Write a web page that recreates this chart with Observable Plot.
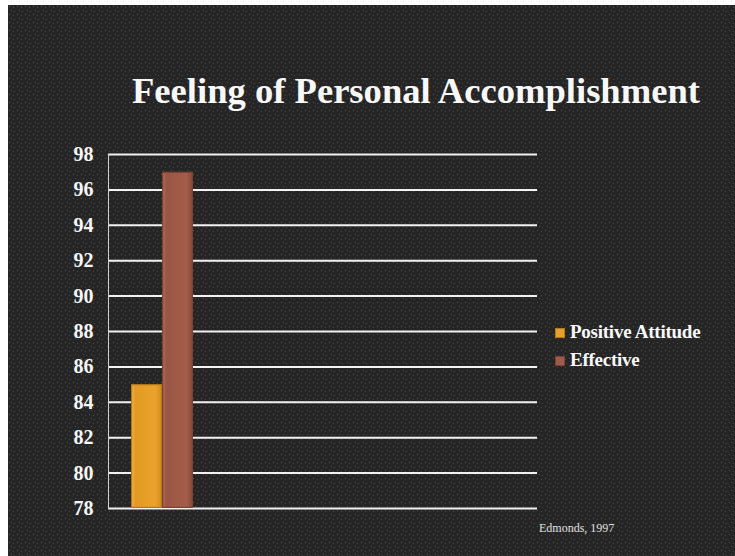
<!DOCTYPE html>
<html>
<head>
<meta charset="utf-8">
<script src="https://cdn.jsdelivr.net/npm/d3@7"></script>
<script src="https://cdn.jsdelivr.net/npm/@observablehq/plot@0.6"></script>
<style>
  html, body { margin: 0; padding: 0; background: #fff; }
  #page { position: relative; width: 735px; height: 556px; overflow: hidden; background: #fff; }
  #bg { position: absolute; left: 8px; top: 5px; width: 727px; height: 551px; background-color: #252525;
        background-image: url("data:image/svg+xml,%3Csvg xmlns='http://www.w3.org/2000/svg' width='8' height='8'%3E%3Crect x='1' y='1' width='1' height='1' fill='%23555'/%3E%3Crect x='5' y='2' width='1' height='1' fill='%234a4a4a'/%3E%3Crect x='3' y='5' width='1' height='1' fill='%23505050'/%3E%3Crect x='6' y='6' width='1' height='1' fill='%23444'/%3E%3C/svg%3E"); }
  #title { position: absolute; left: 0; width: 832px; top: 69px; text-align: center; color: #f8f8f8;
           font-family: "Liberation Serif", serif; font-weight: bold; font-size: 36.6px; white-space: nowrap; }
  #chart { position: absolute; left: 0; top: 130px; }
  .legend { position: absolute; left: 555px; font-family: "Liberation Serif", serif; font-weight: bold;
            font-size: 19px; color: #fafafa; letter-spacing: -0.25px; white-space: nowrap; }
  .legend span.sw { display: inline-block; width: 10px; height: 10px; margin-right: 5px; vertical-align: 0px; box-sizing: border-box; }
  #caption { position: absolute; left: 539px; top: 521px; font-family: "Liberation Serif", serif; font-size: 12px; color: #e0e0e0; white-space: nowrap; }
</style>
</head>
<body>
<div id="page">
  <div id="bg"></div>
  <div id="title"></div>
  <div id="chart"></div>
  <div id="legend"></div>
  <div id="caption"></div>
</div>
<script>
const titleText = "Feeling of Personal Accomplishment";
const series = ["Positive Attitude", "Effective"];
const values = [85, 97];
const yTicks = [78, 80, 82, 84, 86, 88, 90, 92, 94, 96, 98];
const captionText = "Edmonds, 1997";

const fills = ["url(#gradOrange)", "url(#gradBrown)"];
const strokes = ["#b47a1a", "#7a4232"];
const swatch = ["#e8a02a", "#a05a48"];

const data = series.map((s, i) => ({series: s, value: values[i]}));

document.getElementById("title").textContent = titleText;
document.getElementById("caption").textContent = captionText;

const plot = Plot.plot({
  width: 735,
  height: 400,
  marginLeft: 108,
  marginRight: 198,
  marginTop: 24,
  marginBottom: 22,
  style: {background: "transparent", overflow: "visible"},
  x: {domain: series, range: [131, 193], padding: 0, axis: null},
  y: {domain: [78, 98], ticks: yTicks, label: null},
  marks: [
    Plot.ruleY(yTicks, {stroke: "#f2f2f2", strokeWidth: 2}),
    Plot.axisY({ticks: yTicks, tickSize: 0, tickPadding: 15, label: null,
      fontFamily: "Liberation Serif", fontWeight: "bold", fontSize: 20, fill: "#f6f6f6"}),
    Plot.barY(data, {x: "series", y1: 78, y2: "value",
      fill: (d) => fills[series.indexOf(d.series)],
      stroke: (d) => strokes[series.indexOf(d.series)], strokeWidth: 1.2, inset: 0.6}),
    Plot.frame({anchor: "left", stroke: "#cfcfcf", strokeWidth: 1})
  ]
});

const svg = d3.select(plot);
const defs = svg.insert("defs", ":first-child");
const g1 = defs.append("linearGradient").attr("id", "gradOrange").attr("x1", "0").attr("x2", "1").attr("y1", "0").attr("y2", "0");
g1.append("stop").attr("offset", "0").attr("stop-color", "#f4b53c");
g1.append("stop").attr("offset", "0.12").attr("stop-color", "#e39a22");
g1.append("stop").attr("offset", "0.8").attr("stop-color", "#eaa22c");
g1.append("stop").attr("offset", "1").attr("stop-color", "#d48e1e");
const g2 = defs.append("linearGradient").attr("id", "gradBrown").attr("x1", "0").attr("x2", "1").attr("y1", "0").attr("y2", "0");
g2.append("stop").attr("offset", "0").attr("stop-color", "#b46c58");
g2.append("stop").attr("offset", "0.12").attr("stop-color", "#9a5644");
g2.append("stop").attr("offset", "0.8").attr("stop-color", "#a35d4a");
g2.append("stop").attr("offset", "1").attr("stop-color", "#8a4a3a");
document.getElementById("chart").appendChild(plot);

const legend = document.getElementById("legend");
const legendTops = [321, 349];
series.forEach((s, i) => {
  const row = document.createElement("div");
  row.className = "legend";
  row.style.top = legendTops[i] + "px";
  const sw = document.createElement("span");
  sw.className = "sw";
  sw.style.background = swatch[i];
  sw.style.border = "1px solid " + strokes[i];
  row.appendChild(sw);
  row.appendChild(document.createTextNode(s));
  legend.appendChild(row);
});
</script>
</body>
</html>
